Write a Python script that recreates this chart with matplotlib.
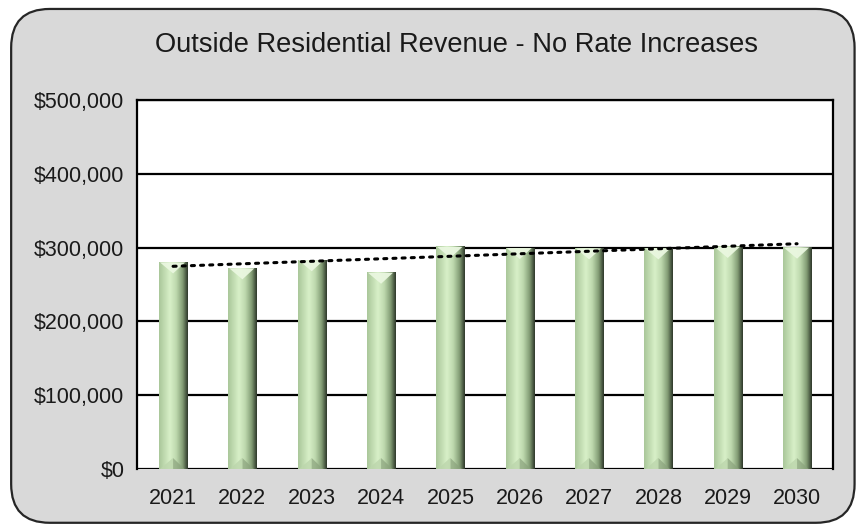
import matplotlib
matplotlib.use("Agg")
import matplotlib.pyplot as plt
import numpy as np
from matplotlib.patches import FancyBboxPatch, Polygon
from matplotlib.colors import LinearSegmentedColormap
from matplotlib.ticker import FuncFormatter

years = ["2021", "2022", "2023", "2024", "2025", "2026", "2027", "2028", "2029", "2030"]
revenue = [280000, 272000, 283000, 266000, 301000, 299500, 299000, 299000, 301000, 300000]
title = "Outside Residential Revenue - No Rate Increases"

plt.rcParams['font.family'] = ['Liberation Sans', 'DejaVu Sans']

fig = plt.figure(figsize=(8.58, 5.27), dpi=100)
fig.patch.set_facecolor('white')
bg = FancyBboxPatch((0.013, 0.008), 0.983, 0.975, boxstyle="round,pad=0,rounding_size=0.045",
                    transform=fig.transFigure, facecolor='#d9d9d9', edgecolor='#262626',
                    linewidth=1.6, mutation_aspect=858/527, zorder=-5)
fig.patches.append(bg)

ax = fig.add_axes([0.1597, 0.110, 0.8113, 0.700])
ax.set_zorder(1)
ax.set_facecolor('white')
x = np.arange(len(years))
bars = ax.bar(x, revenue, width=0.41, color='none', edgecolor='none', zorder=2)
ax.set_xlim(-0.52, len(years) - 0.48)
ax.set_ylim(0, 500000)

cmap = LinearSegmentedColormap.from_list('cyl', [
    (0.0, '#a9c699'), (0.38, '#d8f0c8'), (0.6, '#bdd8ad'), (0.82, '#829c74'), (1.0, '#2c3528')])
grad = np.linspace(0, 1, 256).reshape(1, -1)
px = 500000 / 369.0
for b in bars:
    x0, w, h = b.get_x(), b.get_width(), b.get_height()
    ax.imshow(grad, cmap=cmap, aspect='auto', extent=(x0, x0 + w, 0, h),
              interpolation='bicubic', zorder=2)
    d = 11 * px
    top = Polygon([(x0 + 0.04 * w, h), (x0 + 0.92 * w, h), (x0 + w / 2, h - d)], closed=True,
                  facecolor='#eaf7e0', edgecolor='none', alpha=0.95, zorder=3)
    ax.add_patch(top)
    botL = Polygon([(x0 + 0.05 * w, 0), (x0 + w / 2, 0), (x0 + w / 2, d)], closed=True,
                   facecolor='#bcd6ac', edgecolor='none', alpha=0.8, zorder=3)
    botR = Polygon([(x0 + w / 2, 0), (x0 + 0.9 * w, 0), (x0 + w / 2, d)], closed=True,
                   facecolor='#8aa27c', edgecolor='none', alpha=0.7, zorder=3)
    ax.add_patch(botL)
    ax.add_patch(botR)

# trendline
coef = np.polyfit(x, revenue, 1)
ax.plot(x, np.polyval(coef, x), color='black', linestyle=(0, (1, 2)), linewidth=2.2,
        zorder=4, dash_capstyle='round')

ax.set_yticks(np.arange(0, 500001, 100000))
ax.yaxis.set_major_formatter(FuncFormatter(lambda v, p: f"${v:,.0f}"))
ax.set_xticks(x)
ax.set_xticklabels(years)
ax.grid(axis='y', color='black', linewidth=1.6, zorder=1)
ax.set_axisbelow(True)
ax.tick_params(axis='both', length=0, labelsize=15.5, colors='#1a1a1a')
ax.tick_params(axis='y', pad=9)
ax.tick_params(axis='x', pad=14)
for s in ['left', 'right', 'top']:
    ax.spines[s].set_color('black')
    ax.spines[s].set_linewidth(1.6)
ax.spines['bottom'].set_visible(False)

fig.text(0.532, 0.915, title, ha='center', va='center', fontsize=19.6, color='#1a1a1a')

fig.savefig('out.png', dpi=100, facecolor=fig.get_facecolor())
